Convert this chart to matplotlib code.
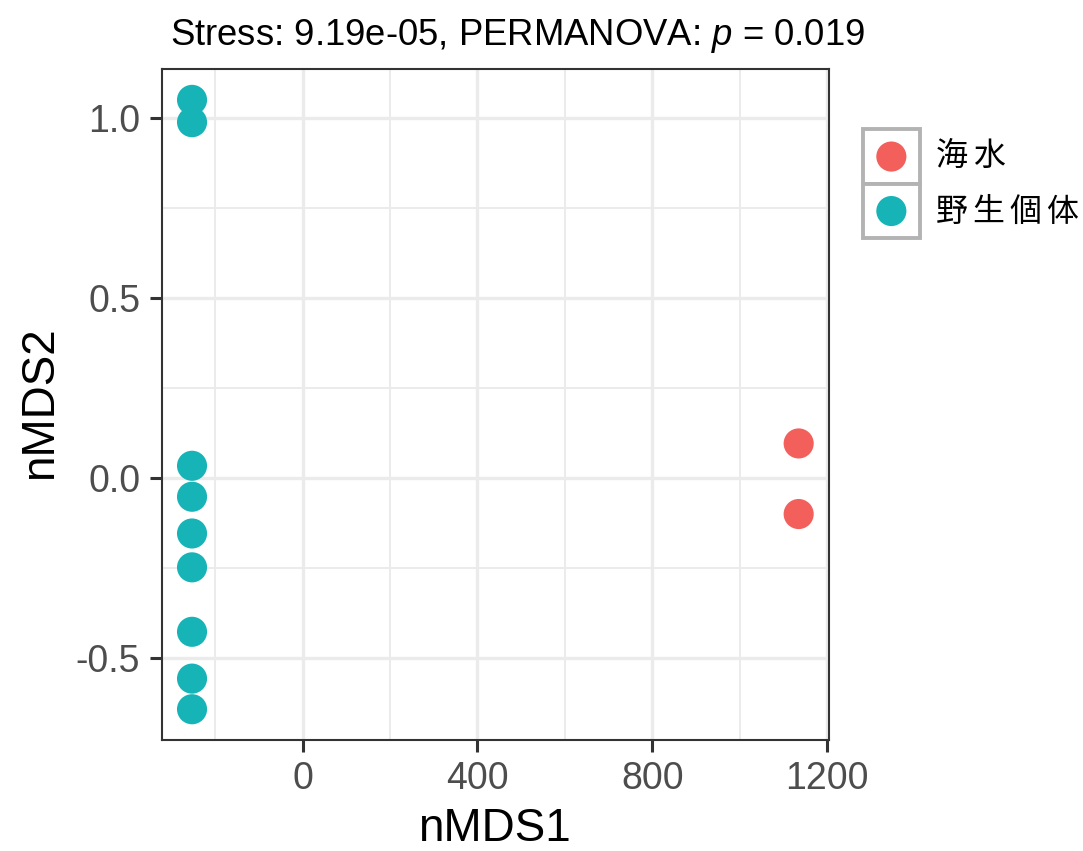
import matplotlib
matplotlib.use("Agg")
import matplotlib.pyplot as plt
from matplotlib.patches import Rectangle
import numpy as np

plt.rcParams['font.family'] = ['Liberation Sans', 'DejaVu Sans']
plt.rcParams['mathtext.fontset'] = 'custom'
plt.rcParams['mathtext.rm'] = 'Liberation Sans'
plt.rcParams['mathtext.it'] = 'Liberation Sans:italic'

# nMDS scores per sample group
groups = ['海水', '野生個体']
colors = ['#F35F5B', '#17B4B7']
seawater_x = [1135, 1135]
seawater_y = [0.097, -0.099]
wild_x = [-253, -253, -253, -253, -253, -253, -253, -253, -253]
wild_y = [1.051, 0.989, 0.035, -0.051, -0.153, -0.247, -0.426, -0.556, -0.641]

x_ticks = [0, 400, 800, 1200]
x_minor = [-200, 200, 600, 1000]
y_ticks = [-0.5, 0.0, 0.5, 1.0]
y_minor = [-0.25, 0.25, 0.75]

W, H = 1083, 851
fig = plt.figure(figsize=(W / 100, H / 100), dpi=100)
ax = fig.add_axes([161.7 / W, 1 - 739.7 / H, (829 - 161.7) / W, (739.7 - 69.4) / H])

ax.scatter(seawater_x, seawater_y, s=470, color=colors[0], edgecolors='none', zorder=3)
ax.scatter(wild_x, wild_y, s=470, color=colors[1], edgecolors='none', zorder=3)

# ggplot-style 5% expansion
all_x = np.array(seawater_x + wild_x)
all_y = np.array(seawater_y + wild_y)
dx = (all_x.max() - all_x.min()) * 0.05
dy = (all_y.max() - all_y.min()) * 0.05
ax.set_xlim(all_x.min() - dx, all_x.max() + dx)
ax.set_ylim(all_y.min() - dy, all_y.max() + dy)

ax.set_xticks(x_ticks)
ax.set_xticklabels([str(v) for v in x_ticks])
ax.set_yticks(y_ticks)
ax.set_yticklabels(['-0.5', '0.0', '0.5', '1.0'])
ax.set_xticks(x_minor, minor=True)
ax.set_yticks(y_minor, minor=True)

ax.grid(True, which='major', color='#EBEBEB', linewidth=2.4, zorder=0)
ax.grid(True, which='minor', color='#EBEBEB', linewidth=1.4, zorder=0)
ax.set_axisbelow(True)
ax.tick_params(which='minor', length=0)
ax.tick_params(which='major', length=8.5, width=2.2, color='#333333',
               labelsize=27, labelcolor='#4D4D4D', pad=7)
for sp in ax.spines.values():
    sp.set_color('#333333')
    sp.set_linewidth(1.5)

fig.text(494 / W, 1 - 841 / H, 'nMDS1', fontsize=33, ha='center', va='baseline')
fig.text(52 / W, 1 - 403 / H, 'nMDS2', fontsize=33, ha='center', va='baseline',
         rotation=90, rotation_mode='anchor')
fig.text(517.5 / W, 1 - 45 / H, 'Stress: 9.19e-05, PERMANOVA: $p$ = 0.019',
         fontsize=26.3, ha='center', va='baseline')

# legend keys drawn by hand
lax = fig.add_axes([862.7 / W, 1 - 238.3 / H, (920 - 862.7) / W, (238.3 - 129.3) / H])
lax.set_xlim(0, 1)
lax.set_ylim(0, 2)
lax.axis('off')
for i, (g, c) in enumerate(zip(groups, colors)):
    yb = 1 - i
    lax.add_patch(Rectangle((0, yb), 1, 1, facecolor='white', edgecolor='#B3B3B3',
                            linewidth=2.8, clip_on=False))
    lax.scatter([0.5], [yb + 0.5], s=470, color=c, edgecolors='none', clip_on=False)

# legend labels, one glyph at a time to get the wider spacing
ytxt = [156, 212]
for g, yt in zip(groups, ytxt):
    for k, ch in enumerate(g):
        fig.text((936 + k * 36.7) / W, 1 - yt / H, ch, fontsize=23, ha='left',
                 va='center', family=['Noto Sans CJK JP', 'DejaVu Sans'])

fig.savefig('out.png', dpi=100)
